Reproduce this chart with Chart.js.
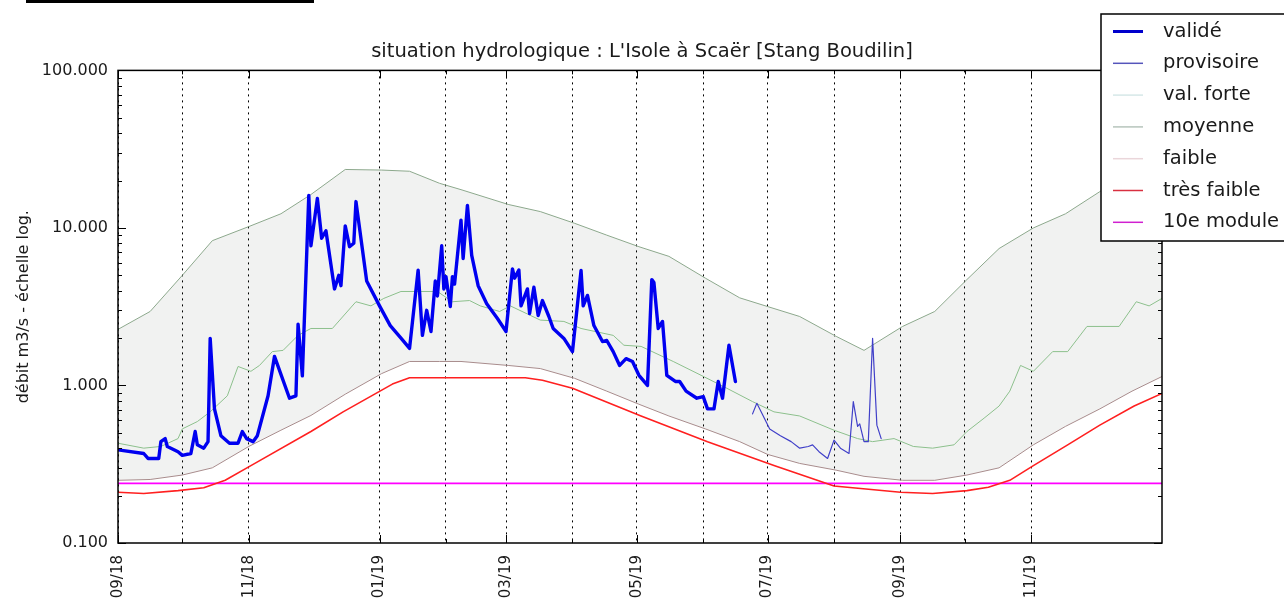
<!DOCTYPE html>
<html lang="fr">
<head>
  <meta charset="UTF-8">
  <title>situation hydrologique : L'Isole à Scaër [Stang Boudilin]</title>
  <script src="https://cdn.jsdelivr.net/npm/chart.js"></script>
  <style>
    body {
      margin: 0;
      background: #ffffff;
    }

    #wrap {
      position: relative;
      width: 1284px;
      height: 601px;
    }

    #topRule {
      position: absolute;
      left: 26px;
      top: 0;
      width: 288px;
      height: 3px;
      background: #000;
    }
  </style>
</head>
<body>

<div id="wrap">
  <canvas id="hydroChart" width="1284" height="601"></canvas>
  <div id="topRule"></div>
</div>

<script>
  // x values are days counted from 01/09/2018, axis runs to 01/01/2020
  const axisEnd = 487;

  // month gridlines (December has none in the original) and their labels
  const monthDays = [0, 30, 61, 122, 153, 181, 212, 242, 273, 303, 334, 365, 395, 426];
  const monthLabels = ['09/18', '', '11/18', '01/19', '', '03/19', '', '05/19', '', '07/19', '', '09/19', '', '11/19'];

  const yTicks = [0.1, 1, 10, 100];

  // débit validé (m3/s)
  const valideDays = [0, 12, 14, 19, 20, 22, 23, 28, 30, 34, 36, 37, 40, 42, 43, 45, 48, 52, 56, 58,
    60, 63, 65, 70, 73, 80, 83, 84, 86, 89, 90, 93, 95, 97, 101, 103, 104, 106, 108, 110,
    111, 116, 122, 127, 132, 136, 140, 142, 144, 146, 148, 149, 151, 152, 153, 155, 156, 157, 160, 161,
    163, 165, 168, 172, 177, 181, 184, 185, 187, 188, 191, 192, 194, 196, 198, 201, 203, 208, 212, 216,
    217, 219, 222, 226, 228, 231, 234, 237, 240, 243, 247, 249, 250, 252, 254, 256, 260, 262, 265, 270,
    273, 275, 278, 280, 282, 285, 288];
  const valideFlow = [0.39, 0.37, 0.344, 0.344, 0.44, 0.46, 0.41, 0.38, 0.36, 0.37, 0.51, 0.42, 0.40, 0.44, 1.99, 0.71, 0.48, 0.43, 0.43, 0.51,
    0.46, 0.44, 0.48, 0.86, 1.53, 0.83, 0.86, 2.45, 1.15, 16.1, 7.7, 15.4, 8.6, 9.6, 4.1, 5.0, 4.3, 10.3, 7.6, 8.0,
    14.7, 4.6, 3.2, 2.4, 2.0, 1.72, 5.4, 2.08, 3.0, 2.2, 4.6, 3.7, 7.7, 4.1, 4.9, 3.17, 4.9, 4.4, 11.2, 6.4,
    13.9, 6.7, 4.3, 3.3, 2.66, 2.2, 5.5, 4.8, 5.4, 3.2, 4.1, 2.86, 4.2, 2.78, 3.46, 2.74, 2.3, 1.99, 1.64, 5.37,
    3.2, 3.73, 2.4, 1.9, 1.93, 1.64, 1.34, 1.48, 1.42, 1.16, 1.0, 4.7, 4.5, 2.3, 2.55, 1.16, 1.06, 1.06, 0.92, 0.83,
    0.85, 0.71, 0.71, 1.06, 0.83, 1.8, 1.06];

  // débit provisoire (m3/s)
  const provDays = [296, 298, 300, 304, 309, 314, 318, 322, 324, 327, 331, 334, 337, 341, 343, 345, 346, 348, 350, 352, 354, 356];
  const provFlow = [0.66, 0.77, 0.68, 0.53, 0.48, 0.44, 0.40, 0.41, 0.42, 0.38, 0.344, 0.45, 0.40, 0.37, 0.79, 0.55, 0.57, 0.44, 0.44, 1.99, 0.56, 0.46];

  // envelope curves share the same days so the band fills cleanly
  const envDays = [0, 15, 30, 44, 61, 76, 90, 106, 123, 136, 150, 160, 182, 197, 213, 228, 243, 257, 274, 290,
    303, 318, 335, 348, 366, 381, 396, 411, 427, 442, 458, 473, 487];
  const forteFlow = [2.27, 2.95, 5.0, 8.3, 10.2, 12.3, 16.3, 23.5, 23.3, 22.9, 19.2, 17.5, 14.1, 12.7, 10.7, 9.0, 7.6, 6.6, 4.8, 3.6,
    3.17, 2.74, 2.05, 1.67, 2.37, 2.95, 4.7, 7.4, 10, 12.3, 17, 24, 32];
  const faibleFlow = [0.25, 0.253, 0.27, 0.30, 0.41, 0.52, 0.645, 0.88, 1.19, 1.42, 1.42, 1.42, 1.34, 1.28, 1.11, 0.92, 0.76, 0.64, 0.53, 0.44,
    0.365, 0.32, 0.29, 0.265, 0.25, 0.25, 0.27, 0.30, 0.42, 0.55, 0.71, 0.92, 1.14];

  const moyDays = [0, 12, 20, 28, 30, 37, 43, 51, 56, 62, 66, 72, 77, 84, 90, 100, 111, 118, 124, 132,
    149, 156, 164, 169, 178, 183, 197, 208, 216, 231, 236, 244, 259, 272, 284, 296, 306, 318, 334, 345,
    352, 362, 371, 380, 390, 396, 404, 411, 416, 421, 427, 436, 443, 452, 467, 475, 481, 487];
  const moyFlow = [0.43, 0.40, 0.41, 0.46, 0.53, 0.59, 0.68, 0.86, 1.32, 1.23, 1.34, 1.64, 1.67, 2.08, 2.3, 2.3, 3.4, 3.2, 3.57, 3.95,
    3.95, 3.4, 3.46, 3.2, 2.95, 3.2, 2.6, 2.55, 2.3, 2.08, 1.8, 1.77, 1.42, 1.16, 0.96, 0.79, 0.68, 0.64, 0.52, 0.46,
    0.44, 0.46, 0.41, 0.40, 0.42, 0.51, 0.62, 0.74, 0.92, 1.34, 1.23, 1.64, 1.64, 2.37, 2.37, 3.4, 3.2, 3.57];

  const tresFaibleDays = [0, 12, 28, 40, 50, 62, 90, 105, 128, 136, 190, 198, 212, 244, 275, 306, 334, 365, 380, 396, 406, 416, 427, 443, 458, 474, 487];
  const tresFaibleFlow = [0.21, 0.206, 0.215, 0.224, 0.25, 0.31, 0.51, 0.68, 1.02, 1.12, 1.12, 1.08, 0.96, 0.64, 0.44, 0.31, 0.23, 0.21, 0.206, 0.215, 0.226, 0.25, 0.31, 0.42, 0.56, 0.74, 0.89];

  const moduleDays = [0, 487];
  const moduleFlow = [0.239, 0.239];

  // legend swatches look different from the plotted lines in the original
  const legendColors = ['#0000cc', '#5555bb', '#d6e8e8', '#b6c4bc', '#ead6da', '#d83040', '#d020d0'];
  const legendWidths = [3, 1.5, 1.5, 1.5, 1.5, 1.5, 1.5];

  const pts = (days, vals) => days.map((d, i) => ({ x: d, y: vals[i] }));

  const line = (label, days, vals, color, width, extra) => Object.assign({
    label,
    data: pts(days, vals),
    borderColor: color,
    borderWidth: width,
    borderJoinStyle: 'round',
    borderCapStyle: 'round',
    pointRadius: 0,
    tension: 0,
    fill: false
  }, extra || {});

  const frameAndLegend = {
    id: 'frameAndLegend',
    afterDatasetsDraw(chart) {
      const { ctx, chartArea: a, scales } = chart;
      const x = scales.x, y = scales.y;
      ctx.save();
      ctx.strokeStyle = '#000';
      ctx.lineWidth = 1;
      ctx.beginPath();
      for (let dec = 0.1; dec < 99; dec *= 10) {
        for (let m = 1; m < 10; m++) {
          const py = Math.round(y.getPixelForValue(dec * m)) + 0.5;
          const len = m === 1 ? 8 : 4;
          ctx.moveTo(a.left, py); ctx.lineTo(a.left + len, py);
          ctx.moveTo(a.right, py); ctx.lineTo(a.right - len, py);
        }
      }
      monthDays.forEach((d, i) => {
        const px = Math.round(x.getPixelForValue(d)) + 0.5;
        const len = monthLabels[i] ? 8 : 4;
        ctx.moveTo(px, a.bottom); ctx.lineTo(px, a.bottom - len);
        ctx.moveTo(px, a.top); ctx.lineTo(px, a.top + len);
      });
      ctx.stroke();
      ctx.lineWidth = 1.5;
      ctx.strokeRect(a.left, a.top, a.right - a.left, a.bottom - a.top);
      ctx.restore();
    },
    afterDraw(chart) {
      const ctx = chart.ctx;
      ctx.save();
      ctx.fillStyle = '#fff';
      ctx.fillRect(1101, 14, 200, 227);
      ctx.strokeStyle = '#000';
      ctx.lineWidth = 1.5;
      ctx.strokeRect(1101, 14, 200, 227);
      ctx.font = '19.5px "DejaVu Sans"';
      ctx.textBaseline = 'middle';
      chart.data.datasets.forEach((ds, i) => {
        const ry = 31.5 + i * 31.8;
        ctx.strokeStyle = legendColors[i];
        ctx.lineWidth = legendWidths[i];
        ctx.beginPath();
        ctx.moveTo(1113, ry);
        ctx.lineTo(1143, ry);
        ctx.stroke();
        ctx.fillStyle = '#1a1a1a';
        ctx.fillText(ds.label, 1163, ry);
      });
      ctx.restore();
    }
  };

  new Chart(document.getElementById('hydroChart').getContext('2d'), {
    type: 'line',
    data: {
      datasets: [
        line('validé', valideDays, valideFlow, '#0000f0', 3.4),
        line('provisoire', provDays, provFlow, '#4040c8', 1.2),
        line('val. forte', envDays, forteFlow, '#8ca88c', 1, { fill: 4, backgroundColor: 'rgba(0, 25, 0, 0.055)' }),
        line('moyenne', moyDays, moyFlow, '#8cc08c', 1),
        line('faible', envDays, faibleFlow, '#a88c8c', 1),
        line('très faible', tresFaibleDays, tresFaibleFlow, '#ff2020', 1.6),
        line('10e module', moduleDays, moduleFlow, '#ff00ff', 1.6)
      ]
    },
    options: {
      responsive: false,
      animation: false,
      layout: { padding: 0 },
      plugins: {
        legend: { display: false },
        tooltip: { enabled: false },
        filler: { drawTime: 'beforeDatasetsDraw' },
        title: {
          display: true,
          text: "situation hydrologique : L'Isole à Scaër [Stang Boudilin]",
          color: '#1a1a1a',
          font: { family: 'DejaVu Sans', size: 19.5, weight: 'normal' },
          padding: { top: 40, bottom: 7 }
        }
      },
      scales: {
        x: {
          type: 'linear',
          min: 0,
          max: axisEnd,
          afterBuildTicks: (s) => { s.ticks = monthDays.map(v => ({ value: v })); },
          afterFit: (s) => { s.height = 58; },
          ticks: {
            autoSkip: false,
            minRotation: 90,
            maxRotation: 90,
            padding: 12,
            color: '#1a1a1a',
            font: { family: 'DejaVu Sans', size: 15 },
            callback: (v, i) => monthLabels[i]
          },
          grid: { color: '#000', lineWidth: 1, drawTicks: false },
          border: { display: false, dash: [2, 4] }
        },
        y: {
          type: 'logarithmic',
          min: 0.1,
          max: 100,
          afterBuildTicks: (s) => { s.ticks = yTicks.map(v => ({ value: v })); },
          afterFit: (s) => { s.width = 118; },
          ticks: {
            padding: 10,
            color: '#1a1a1a',
            font: { family: 'DejaVu Sans', size: 16 },
            callback: (v) => Number(v).toFixed(3)
          },
          grid: { display: false, drawTicks: false },
          border: { display: false },
          title: {
            display: true,
            text: 'débit m3/s - échelle log.',
            color: '#1a1a1a',
            font: { family: 'DejaVu Sans', size: 16 },
            padding: { top: 14, bottom: 0 }
          }
        },
        yRight: {
          type: 'linear',
          position: 'right',
          min: 0,
          max: 1,
          afterFit: (s) => { s.width = 122; },
          ticks: { display: false },
          grid: { display: false, drawTicks: false },
          border: { display: false }
        }
      }
    },
    plugins: [frameAndLegend]
  });
</script>

</body>
</html>
